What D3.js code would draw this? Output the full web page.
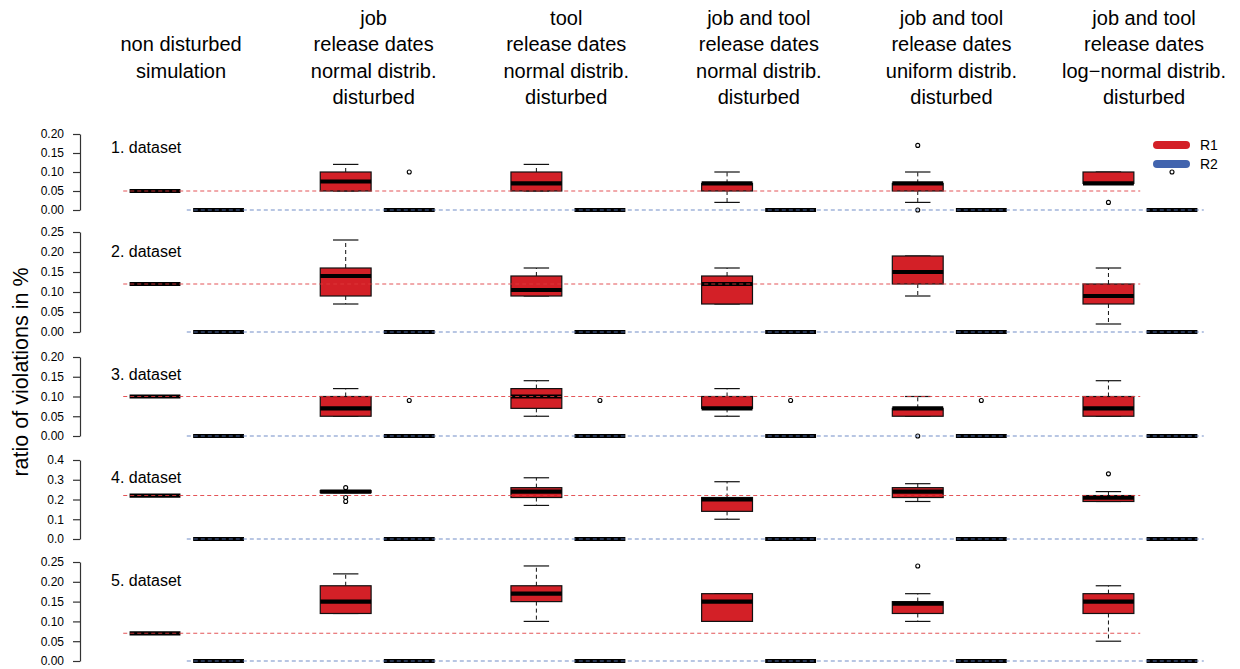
<!DOCTYPE html>
<html>
<head>
<meta charset="utf-8">
<script src="https://cdn.jsdelivr.net/npm/d3@7"></script>
<style>
  html, body { margin: 0; padding: 0; background: #fff; }
  svg { display: block; font-family: "Liberation Sans", Arial, Helvetica, sans-serif; }
</style>
</head>
<body>
<svg id="chart" width="1240" height="669"></svg>
<script>
// ---------------- data ----------------
const groups = ["non disturbed", "job normal", "tool normal", "job and tool normal", "job and tool uniform", "job and tool log-normal"];
const headerLines = [
  ["", "non disturbed", "simulation", ""],
  ["job", "release dates", "normal distrib.", "disturbed"],
  ["tool", "release dates", "normal distrib.", "disturbed"],
  ["job and tool", "release dates", "normal distrib.", "disturbed"],
  ["job and tool", "release dates", "uniform distrib.", "disturbed"],
  ["job and tool", "release dates", "log\u2212normal distrib.", "disturbed"]
];
const headerAt = [1.41, 4.44, 7.47, 10.5, 13.53, 16.56];
const datasets = ["1. dataset", "2. dataset", "3. dataset", "4. dataset", "5. dataset"];
const seriesNames = ["R1", "R2"];
// reference level (non disturbed simulation) for R1 and R2
const refR1 = [0.05, 0.12, 0.10, 0.22, 0.07];
const refR2 = [0, 0, 0, 0, 0];
const yMax = [0.20, 0.25, 0.20, 0.40, 0.25];
const yTicks = [
  [0, 0.05, 0.10, 0.15, 0.20],
  [0, 0.05, 0.10, 0.15, 0.20, 0.25],
  [0, 0.05, 0.10, 0.15, 0.20],
  [0, 0.1, 0.2, 0.3, 0.4],
  [0, 0.05, 0.10, 0.15, 0.20, 0.25]
];
const yTickFormat = [".2f", ".2f", ".2f", ".1f", ".2f"];

// R1 box stats per group: [lower whisker, q1, median, q3, upper whisker]
const d1R1 = [[0.05,0.05,0.05,0.05,0.05],[0.05,0.05,0.075,0.10,0.12],[0.05,0.05,0.07,0.10,0.12],[0.02,0.05,0.07,0.07,0.10],[0.02,0.05,0.07,0.07,0.10],[0.07,0.07,0.07,0.10,0.10]];
const d2R1 = [[0.12,0.12,0.12,0.12,0.12],[0.07,0.09,0.14,0.16,0.23],[0.09,0.09,0.105,0.14,0.16],[0.07,0.07,0.12,0.14,0.16],[0.09,0.12,0.15,0.19,0.19],[0.02,0.07,0.09,0.12,0.16]];
const d3R1 = [[0.10,0.10,0.10,0.10,0.10],[0.05,0.05,0.07,0.10,0.12],[0.05,0.07,0.10,0.12,0.14],[0.05,0.07,0.07,0.10,0.12],[0.05,0.05,0.07,0.07,0.10],[0.05,0.05,0.07,0.10,0.14]];
const d4R1 = [[0.22,0.22,0.22,0.22,0.22],[0.235,0.235,0.24,0.245,0.245],[0.17,0.21,0.24,0.26,0.31],[0.10,0.14,0.20,0.21,0.29],[0.19,0.21,0.24,0.26,0.28],[0.19,0.19,0.21,0.22,0.24]];
const d5R1 = [[0.07,0.07,0.07,0.07,0.07],[0.12,0.12,0.15,0.19,0.22],[0.10,0.15,0.17,0.19,0.24],[0.10,0.10,0.15,0.17,0.17],[0.10,0.12,0.145,0.15,0.17],[0.05,0.12,0.15,0.17,0.19]];
// R2 stats: all zero
const r2Stats = [0, 0, 0, 0, 0];
// outliers
const d1R1Out = [[],[],[],[],[0.17,0.00],[0.02]];
const d2R1Out = [[],[],[],[],[],[]];
const d3R1Out = [[],[],[],[],[0.00],[]];
const d4R1Out = [[],[0.26,0.21,0.19],[],[],[],[0.33]];
const d5R1Out = [[],[],[],[],[0.24],[]];
const d1R2Out = [[],[0.10],[],[],[],[0.10]];
const d2R2Out = [[],[],[],[],[],[]];
const d3R2Out = [[],[0.09],[0.09],[0.09],[0.09],[]];
const d4R2Out = [[],[],[],[],[],[]];
const d5R2Out = [[],[],[],[],[],[]];

const r1All = [d1R1, d2R1, d3R1, d4R1, d5R1];
const r1OutAll = [d1R1Out, d2R1Out, d3R1Out, d4R1Out, d5R1Out];
const r2OutAll = [d1R2Out, d2R2Out, d3R2Out, d4R2Out, d5R2Out];

// ---------------- layout ----------------
const panelRange = [[210,134],[332,232],[436,357],[539,460],[661,562]];
const labelY = [147, 251, 374, 477, 580];
const colR1 = "#D32027";
const colR2 = "#4264AE";
const refColR1 = "#E0383C";
const refColR2 = "#5A7CC0";

const svg = d3.select("#chart");
const x = d3.scaleLinear().domain([1, 17]).range([155, 1172]);
const unit = x(2) - x(1);
const boxW = 0.8 * unit;
const stapleW = 0.4 * unit;
const posR1 = g => 1 + 3 * g;
const posR2 = g => 2 + 3 * g;

// headers
const hdr = svg.append("g");
headerLines.forEach((lines, g) => {
  lines.forEach((t, i) => {
    if (!t) return;
    hdr.append("text")
      .attr("x", x(headerAt[g]))
      .attr("y", 18 + i * 26.3)
      .attr("text-anchor", "middle")
      .attr("dominant-baseline", "central")
      .attr("font-size", 20)
      .attr("fill", "#000")
      .text(t);
  });
});

// y label
svg.append("text")
  .attr("transform", `translate(21,372) rotate(-90)`)
  .attr("text-anchor", "middle")
  .attr("dominant-baseline", "central")
  .attr("font-size", 21.5)
  .text("ratio of violations in %");

function drawBox(gEl, y, pos, s, fill) {
  const [lo, q1, med, q3, hi] = s;
  const cx = x(pos);
  // whiskers
  if (hi > q3) {
    gEl.append("line").attr("x1", cx).attr("x2", cx).attr("y1", y(q3)).attr("y2", y(hi))
      .attr("stroke", "#111").attr("stroke-width", 1).attr("stroke-dasharray", "4,3");
  }
  if (lo < q1) {
    gEl.append("line").attr("x1", cx).attr("x2", cx).attr("y1", y(q1)).attr("y2", y(lo))
      .attr("stroke", "#111").attr("stroke-width", 1).attr("stroke-dasharray", "4,3");
  }
  [lo, hi].forEach(v => {
    gEl.append("line").attr("x1", cx - stapleW / 2).attr("x2", cx + stapleW / 2)
      .attr("y1", y(v)).attr("y2", y(v)).attr("stroke", "#111").attr("stroke-width", 1.2);
  });
  gEl.append("rect")
    .attr("x", cx - boxW / 2).attr("width", boxW)
    .attr("y", y(q3)).attr("height", Math.max(0, y(q1) - y(q3)))
    .attr("fill", fill).attr("stroke", "#111").attr("stroke-width", 1.2);
  gEl.append("line").attr("x1", cx - boxW / 2).attr("x2", cx + boxW / 2)
    .attr("y1", y(med)).attr("y2", y(med)).attr("stroke", "#000").attr("stroke-width", 4.2);
}

function drawOut(gEl, y, pos, vals) {
  vals.forEach(v => {
    gEl.append("circle").attr("cx", x(pos)).attr("cy", y(v)).attr("r", 2)
      .attr("fill", "none").attr("stroke", "#000").attr("stroke-width", 1.1);
  });
}

datasets.forEach((name, p) => {
  const y = d3.scaleLinear().domain([0, yMax[p]]).range(panelRange[p]);
  const gP = svg.append("g");

  // axis
  const ax = gP.append("g").attr("transform", "translate(80,0)")
    .call(d3.axisLeft(y).tickValues(yTicks[p]).tickSize(7).tickSizeOuter(0).tickPadding(9)
      .tickFormat(d3.format(yTickFormat[p])));
  ax.selectAll("path, line").attr("stroke", "#333").attr("stroke-width", 1.2);
  ax.selectAll("text").attr("font-size", 12).attr("fill", "#000")
    .attr("font-family", "\"Liberation Sans\", Arial, sans-serif");

  // dataset label
  gP.append("text").attr("x", 111).attr("y", labelY[p])
    .attr("dominant-baseline", "central").attr("font-size", 16).text(name);

  // boxes
  groups.forEach((grp, g) => {
    drawBox(gP, y, posR1(g), r1All[p][g], colR1);
    drawBox(gP, y, posR2(g), r2Stats, colR2);
  });
  groups.forEach((grp, g) => {
    drawOut(gP, y, posR1(g), r1OutAll[p][g]);
    drawOut(gP, y, posR2(g), r2OutAll[p][g]);
  });

  // reference lines
  gP.append("line").attr("x1", x(posR1(0) - 0.5)).attr("x2", x(posR1(5) + 0.5))
    .attr("y1", y(refR1[p])).attr("y2", y(refR1[p]))
    .attr("stroke", refColR1).attr("stroke-width", 1.1).attr("stroke-dasharray", "4,3").attr("opacity", 0.85);
  gP.append("line").attr("x1", x(posR2(0) - 0.5)).attr("x2", x(posR2(5) + 0.5))
    .attr("y1", y(refR2[p])).attr("y2", y(refR2[p]))
    .attr("stroke", refColR2).attr("stroke-width", 1.1).attr("stroke-dasharray", "4,3").attr("opacity", 0.85);
});

// legend
const leg = svg.append("g");
seriesNames.forEach((s, i) => {
  const ly = 145 + i * 19;
  leg.append("line").attr("x1", 1157).attr("x2", 1186).attr("y1", ly).attr("y2", ly)
    .attr("stroke", i === 0 ? colR1 : colR2).attr("stroke-width", 8).attr("stroke-linecap", "round");
  leg.append("text").attr("x", 1200).attr("y", ly).attr("dominant-baseline", "central")
    .attr("font-size", 14).text(s);
});
</script>
</body>
</html>
